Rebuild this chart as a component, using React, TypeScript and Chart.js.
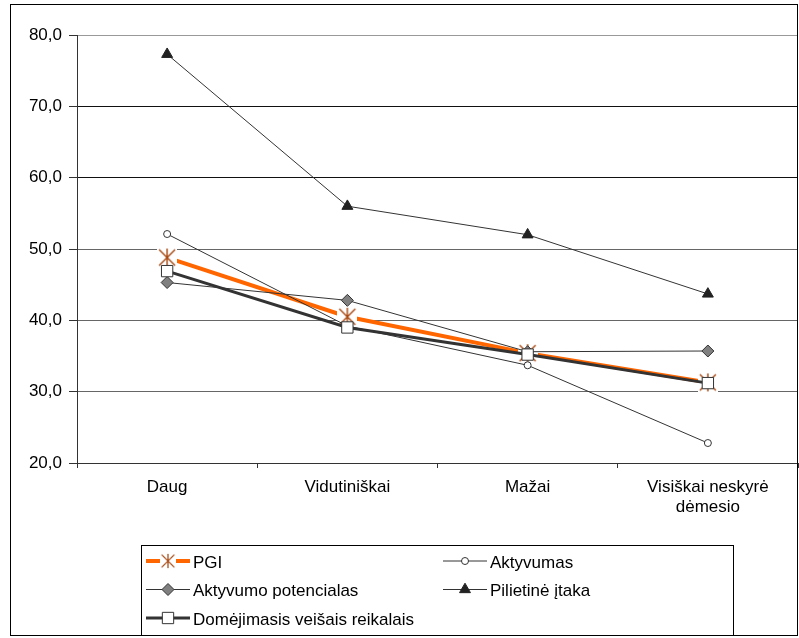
import React, { useEffect, useRef } from "react";
import { Chart, registerables } from "chart.js";
import { drawPoint } from "chart.js/helpers";

Chart.register(...registerables);

const categories: (string | string[])[] = ["Daug", "Vidutiniškai", "Mažai", ["Visiškai neskyrė", "dėmesio"]];
const pgi = [48.8, 40.5, 35.4, 31.3];
const aktyvumas = [52.1, 39.2, 33.7, 22.8];
const aktyvumoPotencialas = [45.3, 42.8, 35.6, 35.7];
const pilietineItaka = [77.3, 56.0, 52.0, 43.7];
const domejimasis = [46.9, 39.0, 35.2, 31.2];
const seriesNames = ["PGI", "Aktyvumas", "Aktyvumo potencialas", "Pilietinė įtaka", "Domėjimasis veišais reikalais"];
const yMin = 20;
const yMax = 80;
const yStep = 10;

const FONT = '"Liberation Sans", Arial, sans-serif';

function makeAsterisk(): HTMLCanvasElement {
  const c = document.createElement("canvas");
  c.width = 20;
  c.height = 20;
  const g = c.getContext("2d")!;
  g.fillStyle = "#ffffff";
  g.fillRect(0, 0, 20, 20);
  g.strokeStyle = "#A8470F";
  g.lineWidth = 1.4;
  g.beginPath();
  g.moveTo(2, 2);
  g.lineTo(18, 18);
  g.moveTo(18, 2);
  g.lineTo(2, 18);
  g.moveTo(10, 1);
  g.lineTo(10, 19);
  g.stroke();
  return c;
}

const legendSlots = [
  { x: 146, y: 561 },
  { x: 443, y: 561 },
  { x: 146, y: 589.5 },
  { x: 443, y: 589.5 },
  { x: 146, y: 618 },
];

const framePlugin = {
  id: "frameAndLegend",
  beforeDatasetsDraw(chart: any) {
    const { ctx, chartArea } = chart;
    ctx.save();
    ctx.strokeStyle = "#333";
    ctx.lineWidth = 1;
    ctx.beginPath();
    ctx.moveTo(Math.round(chartArea.right) - 0.5, chartArea.top);
    ctx.lineTo(Math.round(chartArea.right) - 0.5, chartArea.bottom);
    ctx.stroke();
    ctx.restore();
  },
  afterDraw(chart: any) {
    const ctx = chart.ctx as CanvasRenderingContext2D;
    ctx.save();
    ctx.strokeStyle = "#000";
    ctx.lineWidth = 1;
    ctx.strokeRect(10.5, 4.5, 787, 631);
    ctx.strokeRect(141.5, 545.5, 592, 90);
    chart.data.datasets.forEach((ds: any, i: number) => {
      const slot = legendSlots[i];
      const x1 = slot.x;
      const x2 = slot.x + 44;
      const y = slot.y;
      const cx = (x1 + x2) / 2;
      ctx.strokeStyle = ds.borderColor;
      ctx.lineWidth = ds.borderWidth;
      ctx.beginPath();
      ctx.moveTo(x1, y);
      ctx.lineTo(x2, y);
      ctx.stroke();
      if (ds.pointStyle instanceof HTMLCanvasElement) {
        ctx.drawImage(ds.pointStyle, cx - 8, y - 8, 16, 16);
      } else {
        ctx.fillStyle = ds.pointBackgroundColor;
        ctx.strokeStyle = ds.pointBorderColor;
        ctx.lineWidth = ds.pointBorderWidth;
        drawPoint(ctx, { pointStyle: ds.pointStyle, radius: ds.pointRadius, rotation: 0, borderWidth: ds.pointBorderWidth } as any, cx, y);
      }
      ctx.fillStyle = "#000";
      ctx.font = `17px ${FONT}`;
      ctx.textBaseline = "middle";
      ctx.textAlign = "left";
      ctx.fillText(ds.label, x2 + 3, y + 2);
    });
    ctx.restore();
  },
};

export default function App() {
  const ref = useRef<HTMLCanvasElement>(null);
  useEffect(() => {
    const canvas = ref.current!;
    const asterisk = makeAsterisk();
    const chart = new Chart(canvas, {
      type: "line",
      data: {
        labels: categories,
        datasets: [
          {
            label: seriesNames[0],
            data: pgi,
            borderColor: "#FF6600",
            borderWidth: 4,
            pointStyle: asterisk as any,
            pointRadius: 10,
            pointBackgroundColor: "#ffffff",
            pointBorderColor: "#A8470F",
            pointBorderWidth: 1,
            order: 5,
          },
          {
            label: seriesNames[1],
            data: aktyvumas,
            borderColor: "#333333",
            borderWidth: 1,
            pointStyle: "circle",
            pointRadius: 3.5,
            pointBackgroundColor: "#ffffff",
            pointBorderColor: "#333333",
            pointBorderWidth: 1,
            order: 2,
          },
          {
            label: seriesNames[2],
            data: aktyvumoPotencialas,
            borderColor: "#333333",
            borderWidth: 1,
            pointStyle: "rectRot",
            pointRadius: 6,
            pointBackgroundColor: "#808080",
            pointBorderColor: "#333333",
            pointBorderWidth: 1,
            order: 3,
          },
          {
            label: seriesNames[3],
            data: pilietineItaka,
            borderColor: "#333333",
            borderWidth: 1,
            pointStyle: "triangle",
            pointRadius: 6.3,
            pointBackgroundColor: "#222222",
            pointBorderColor: "#222222",
            pointBorderWidth: 1,
            order: 4,
          },
          {
            label: seriesNames[4],
            data: domejimasis,
            borderColor: "#333333",
            borderWidth: 3,
            pointStyle: "rect",
            pointRadius: 8,
            pointBackgroundColor: "#ffffff",
            pointBorderColor: "#333333",
            pointBorderWidth: 1,
            order: 1,
          },
        ] as any,
      },
      options: {
        animation: false,
        responsive: false,
        devicePixelRatio: 1,
        layout: { autoPadding: false, padding: { left: 0, top: 35, right: 1, bottom: 115 } },
        plugins: { legend: { display: false }, tooltip: { enabled: false } },
        elements: { line: { tension: 0 } },
        scales: {
          x: {
            offset: true,
            grid: { offset: true, drawOnChartArea: false, drawTicks: true, tickLength: 5, color: "#333" },
            border: { color: "#333", width: 1 },
            ticks: { color: "#000", font: { family: FONT, size: 17, lineHeight: "20px" }, padding: 9, maxRotation: 0, autoSkip: false },
            afterFit: (s: any) => { s.height = 60; s.paddingLeft = 0; s.paddingRight = 0; },
          },
          y: {
            min: yMin,
            max: yMax,
            grid: {
              color: (c: any) => {
                const v = c.tick ? c.tick.value : 0;
                if (v === 80) return "#999";
                if (v === 70 || v === 60) return "#111";
                return "#666";
              },
              tickColor: "#333",
              tickLength: 8,
            },
            border: { color: "#333", width: 1 },
            ticks: {
              stepSize: yStep,
              color: "#000",
              padding: 7,
              font: { family: FONT, size: 17 },
              callback: (v: any) => Number(v).toFixed(1).replace(".", ","),
            },
            afterFit: (s: any) => { s.width = 77; s.paddingTop = 0; s.paddingBottom = 0; },
          },
        },
      } as any,
      plugins: [framePlugin],
    });
    return () => chart.destroy();
  }, []);
  return (
    <div style={{ position: "fixed", left: 0, top: 0, width: 799, height: 638, background: "#fff" }}>
      <canvas ref={ref} width={799} height={638} style={{ display: "block", width: 799, height: 638 }} />
    </div>
  );
}
